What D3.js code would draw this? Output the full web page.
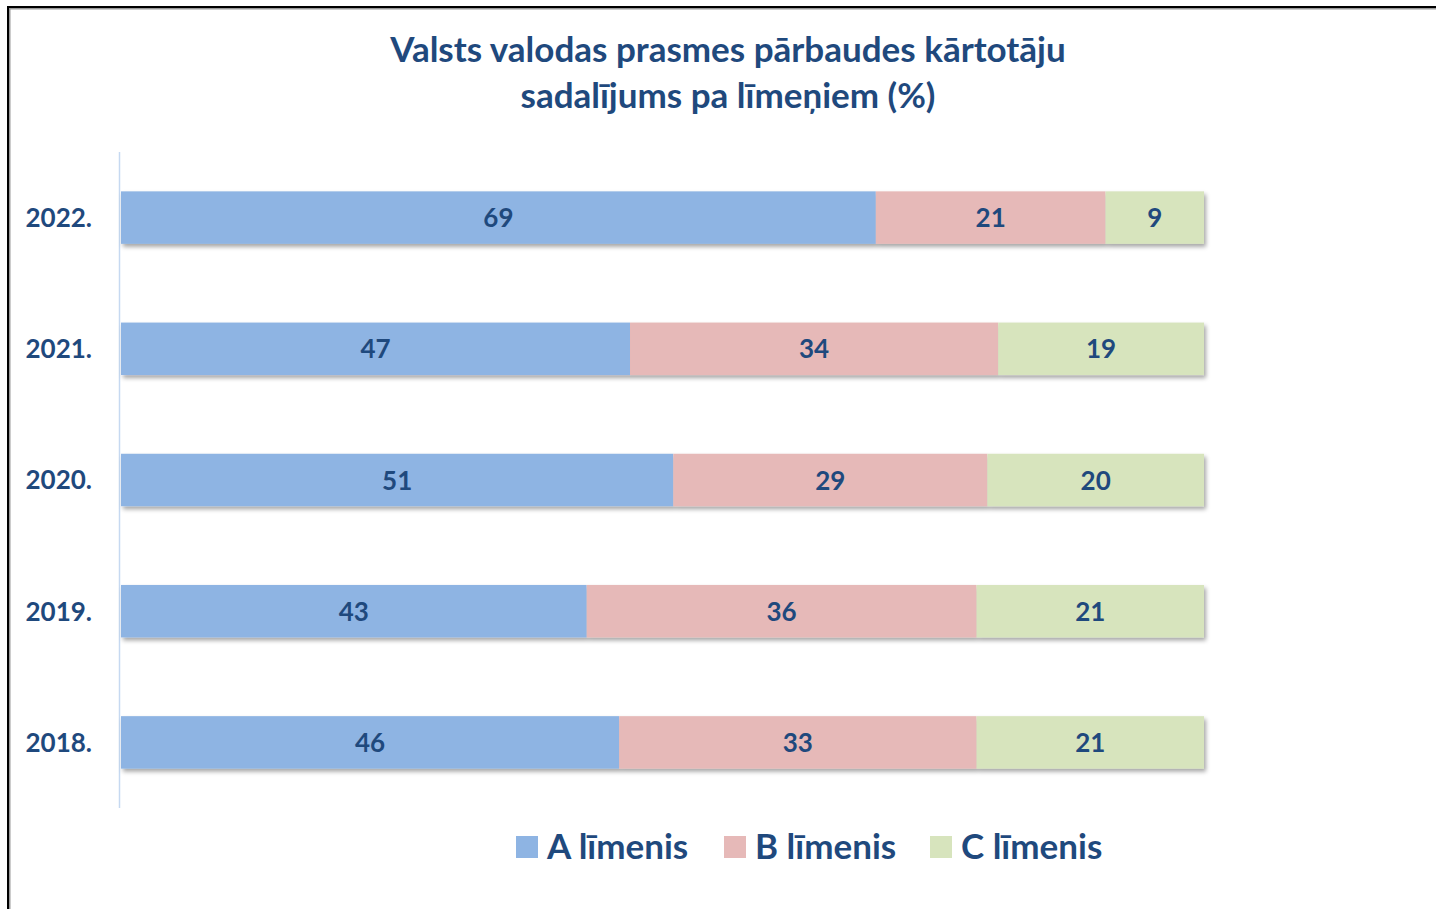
<!DOCTYPE html>
<html>
<head>
<meta charset="utf-8">
<script src="https://cdn.jsdelivr.net/npm/d3@7"></script>
<style>
  body { margin: 0; background: #fff; }
  svg text { font-family: Lato, "Open Sans", sans-serif; font-weight: bold; fill: #1F497D; }
</style>
</head>
<body>
<div id="chart"></div>
<script>
// Chart data
const years = ["2022.", "2021.", "2020.", "2019.", "2018."];
const levelA = [69, 47, 51, 43, 46];
const levelB = [21, 34, 29, 36, 33];
const levelC = [9, 19, 20, 21, 21];
const seriesNames = ["A līmenis", "B līmenis", "C līmenis"];
const colors = ["#8EB4E3", "#E6B9B8", "#D7E4BD"];
const titleLines = ["Valsts valodas prasmes pārbaudes kārtotāju", "sadalījums pa līmeņiem (%)"];

const W = 1436, H = 909;
const margin = { top: 152, left: 121, right: 232, bottom: 101 };

const svg = d3.select("#chart").append("svg")
  .attr("width", W)
  .attr("height", H);

// drop shadow for the bars
const defs = svg.append("defs");
defs.append("filter")
  .attr("id", "shadow")
  .attr("x", "-5%").attr("y", "-20%")
  .attr("width", "110%").attr("height", "160%")
  .append("feDropShadow")
  .attr("dx", 2).attr("dy", 3)
  .attr("stdDeviation", 2)
  .attr("flood-color", "#000")
  .attr("flood-opacity", 0.35);

// outer frame (left and top edges visible)
svg.append("path")
  .attr("d", `M9,${H} L9,8 L${W},8`)
  .attr("fill", "none")
  .attr("stroke", "#999")
  .attr("stroke-width", 3);
svg.append("path")
  .attr("d", `M8,${H} L8,7 L${W},7`)
  .attr("fill", "none")
  .attr("stroke", "#000")
  .attr("stroke-width", 2);

// title
svg.append("text")
  .attr("x", 728)
  .attr("y", 62)
  .attr("text-anchor", "middle")
  .style("font-size", "35px")
  .selectAll("tspan")
  .data(titleLines)
  .enter().append("tspan")
  .attr("x", 728)
  .attr("dy", (d, i) => i === 0 ? 0 : 46)
  .text(d => d);

// stacked (100%) data
const rows = years.map((y, i) => ({ year: y, A: levelA[i], B: levelB[i], C: levelC[i] }));
const stack = d3.stack().keys(["A", "B", "C"]).offset(d3.stackOffsetExpand);
const series = stack(rows);

const x = d3.scaleLinear()
  .domain([0, 1])
  .range([margin.left, W - margin.right]);

const y = d3.scaleBand()
  .domain(years)
  .range([margin.top, H - margin.bottom])
  .paddingInner(0.6)
  .paddingOuter(0.3);

// vertical axis line
svg.append("line")
  .attr("x1", 119.5).attr("x2", 119.5)
  .attr("y1", margin.top).attr("y2", H - margin.bottom)
  .attr("stroke", "#C6D9F1")
  .attr("stroke-width", 1.5);

// bars, each row grouped so the shadow is cast by the whole row
const rowG = svg.append("g").selectAll("g")
  .data(rows)
  .enter().append("g")
  .attr("filter", "url(#shadow)");

rowG.selectAll("rect")
  .data((d, i) => series.map((s, k) => ({ key: s.key, k, seg: s[i], val: d[s.key], year: d.year })))
  .enter().append("rect")
  .attr("x", d => x(d.seg[0]))
  .attr("y", d => y(d.year))
  .attr("width", d => x(d.seg[1]) - x(d.seg[0]))
  .attr("height", y.bandwidth())
  .attr("fill", d => colors[d.k]);

// value labels
const labels = [];
series.forEach((s, k) => s.forEach((seg, i) => labels.push({ seg, year: rows[i].year, val: rows[i][s.key] })));
svg.append("g").selectAll("text")
  .data(labels)
  .enter().append("text")
  .attr("x", d => x((d.seg[0] + d.seg[1]) / 2))
  .attr("y", d => y(d.year) + y.bandwidth() / 2)
  .attr("dy", "0.37em")
  .attr("text-anchor", "middle")
  .style("font-size", "26px")
  .text(d => d.val);

// year labels
svg.append("g").selectAll("text")
  .data(years)
  .enter().append("text")
  .attr("x", 92)
  .attr("y", d => y(d) + y.bandwidth() / 2)
  .attr("dy", "0.36em")
  .attr("text-anchor", "end")
  .style("font-size", "26px")
  .text(d => d);

// legend
const legendX = [516, 724, 930];
const legend = svg.append("g").selectAll("g")
  .data(seriesNames)
  .enter().append("g")
  .attr("transform", (d, i) => `translate(${legendX[i]},836)`);
legend.append("rect")
  .attr("width", 22).attr("height", 22)
  .attr("fill", (d, i) => colors[i]);
legend.append("text")
  .attr("x", 31)
  .attr("y", 23)
  .style("font-size", "35px")
  .text(d => d);
</script>
</body>
</html>
